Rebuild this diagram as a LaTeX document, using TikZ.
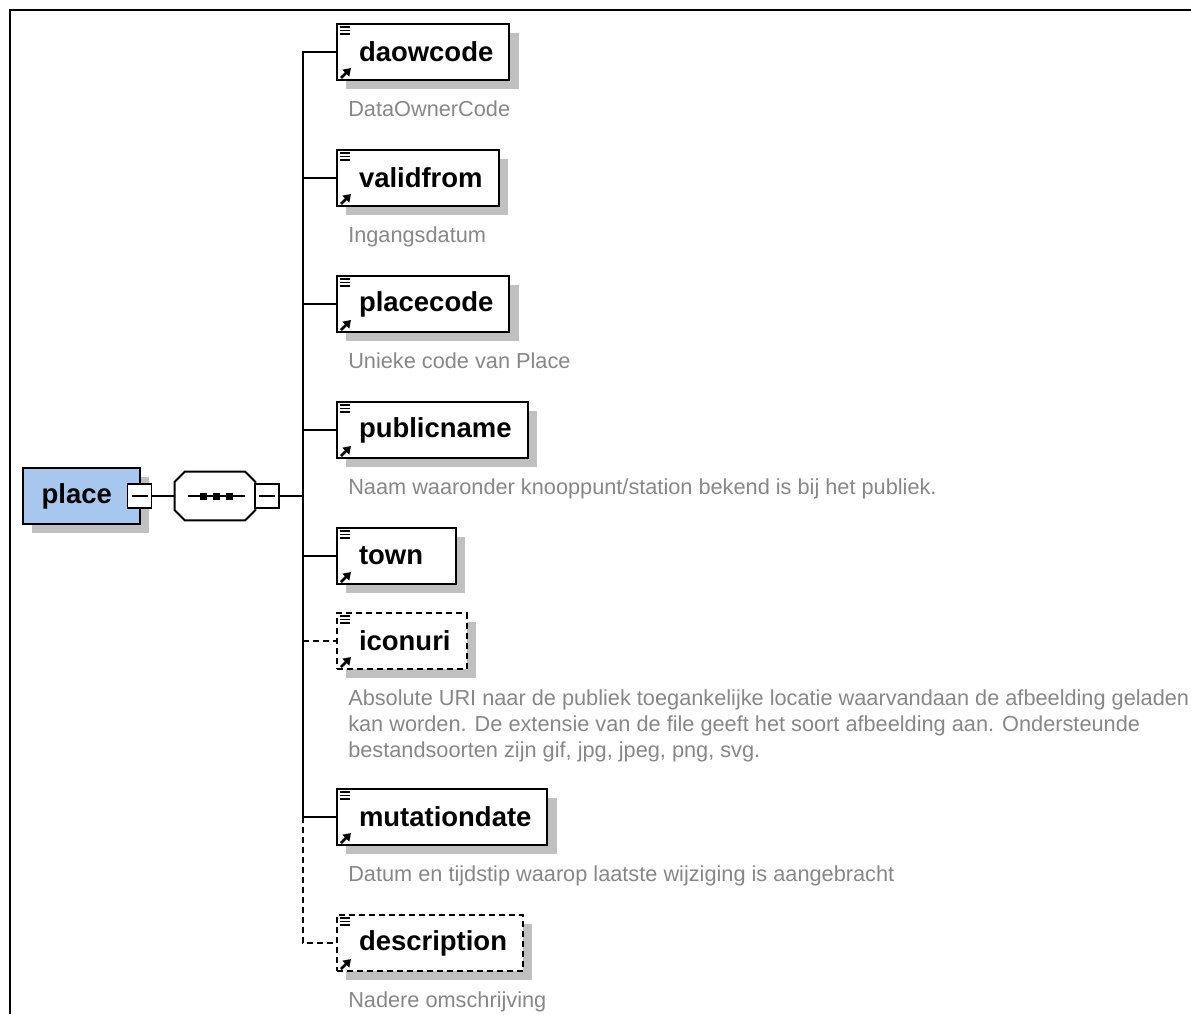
\documentclass[tikz,border=0pt]{standalone}
\usepackage{fontspec}
\setmainfont{Liberation Sans}
\usetikzlibrary{arrows.meta, positioning, shadows, calc}

\definecolor{elemblue}{RGB}{167,199,238}
\definecolor{docgray}{RGB}{135,135,135}
\definecolor{shadowgray}{RGB}{192,192,192}

\begin{document}
\begin{tikzpicture}[
  x=0.75pt, y=-0.75pt,
  boxshadow/.style={drop shadow={shadow xshift=7pt, shadow yshift=-7pt, fill=shadowgray, opacity=1}},
  elem/.style={
    draw, line width=1.5pt, fill=white, anchor=west, boxshadow,
    minimum height=42pt, inner xsep=12pt, inner ysep=0pt,
    font=\fontsize{20.6}{24}\selectfont\bfseries
  },
  optional/.style={dash pattern=on 4.5pt off 3pt},
  optelem/.style={elem, optional},
  doc/.style={
    anchor=north west, inner sep=0pt, align=left, text=docgray,
    font=\fontsize{16.3}{19.5}\selectfont
  },
  minus/.style={
    draw, fill=white, line width=1pt, minimum size=18pt, inner sep=0pt,
    path picture={\draw[line width=1pt] ([xshift=3pt]path picture bounding box.west)
      -- ([xshift=-3pt]path picture bounding box.east);}
  },
  conn/.style={line width=1.5pt}
]
\useasboundingbox (0,0) rectangle (1191,1014);

% frame
\draw[line width=2pt] (10,1014) -- (10,10) -- (1191,10);

% root element and sequence
\node[elem, fill=elemblue, minimum width=87.75pt, inner xsep=0pt] (place) at (22,496) {place\hspace*{7pt}};
\node[minimum width=60pt, minimum height=36pt, inner sep=0pt] (seq) at (215,496) {};
\fill[shadowgray, shift={(9,9)}]
  ($(seq.north west)+(10,0)$) -- ($(seq.north east)+(-10,0)$) -- ($(seq.north east)+(0,10)$)
  -- ($(seq.south east)+(0,-10)$) -- ($(seq.south east)+(-10,0)$) -- ($(seq.south west)+(10,0)$)
  -- ($(seq.south west)+(0,-10)$) -- ($(seq.north west)+(0,10)$) -- cycle;
\filldraw[fill=white, line width=1.5pt]
  ($(seq.north west)+(10,0)$) -- ($(seq.north east)+(-10,0)$) -- ($(seq.north east)+(0,10)$)
  -- ($(seq.south east)+(0,-10)$) -- ($(seq.south east)+(-10,0)$) -- ($(seq.south west)+(10,0)$)
  -- ($(seq.south west)+(0,-10)$) -- ($(seq.north west)+(0,10)$) -- cycle;
\node[minus] (placeminus) at (139.5,496) {};
\node[minus] (seqminus) at (267,496) {};
\draw[line width=1.5pt] ($(seq.center)+(-27,0)$) -- ++(57,0);
\foreach \dx in {-12,1,14}
  \fill ($(seq.center)+(\dx-3.5,-3.5)$) rectangle ++(7,7);

% child elements
\node[elem] (daowcode) at (336,52) {\hspace*{4.5pt}daowcode};
\node[elem] (validfrom) at (336,178) {\hspace*{4.5pt}validfrom};
\node[elem] (placecode) at (336,304) {\hspace*{4.5pt}placecode};
\node[elem] (publicname) at (336,430) {\hspace*{4.5pt}publicname};
\node[elem] (town) at (336,556) {\hspace*{4.5pt}town\hspace*{12.5pt}};
\node[optelem] (iconuri) at (336,641) {\hspace*{4.5pt}iconuri};
\node[elem] (mutationdate) at (336,817) {\hspace*{4.5pt}mutationdate};
\node[optelem] (description) at (336,943) {\hspace*{4.5pt}description};

% icons
\foreach \n in {daowcode,validfrom,placecode,publicname,town,iconuri,mutationdate,description}{
  \foreach \dy in {4,7.5,11}
    \draw[line width=1.1pt] ($(\n.north west)+(4,\dy)$) -- ++(10,0);
  \draw[line width=2pt, -{Triangle[length=5.5pt,width=7pt]}]
    ($(\n.south west)+(5,-3)$) -- ++(10,-10);
}

% documentation
\node[doc, below right=14.5pt and 9pt of daowcode.south west] (daowcodedoc) {DataOwnerCode};
\node[doc, below right=14.5pt and 9pt of validfrom.south west] (validfromdoc) {Ingangsdatum};
\node[doc, below right=14.5pt and 9pt of placecode.south west] (placecodedoc) {Unieke code van Place};
\node[doc, below right=14.5pt and 9pt of publicname.south west] (publicnamedoc) {Naam waaronder knooppunt/station bekend is bij het publiek.};
\node[doc, below right=14.5pt and 9pt of iconuri.south west] (iconuridoc) {Absolute URI naar de publiek toegankelijke locatie waarvandaan de afbeelding geladen\\
kan worden. De extensie van de file geeft het soort afbeelding aan. Ondersteunde\\
bestandsoorten zijn gif, jpg, jpeg, png, svg.};
\node[doc, below right=14.5pt and 9pt of mutationdate.south west] (mutationdatedoc) {Datum en tijdstip waarop laatste wijziging is aangebracht};
\node[doc, below right=14.5pt and 9pt of description.south west] (descriptiondoc) {Nadere omschrijving};

% connectors
\coordinate (trunk) at ($(seqminus.east)+(23,0)$);
\draw[conn] (placeminus.east) -- (seq.west);
\draw[conn] (seqminus.east) -- (trunk);
\foreach \n in {daowcode,validfrom,placecode,publicname,town,mutationdate}
  \draw[conn] (trunk) |- (\n.west);
\draw[conn, optional] (trunk |- iconuri.west) -- (iconuri.west);
\draw[conn, optional] (trunk |- mutationdate.west) |- (description.west);

\end{tikzpicture}
\end{document}
